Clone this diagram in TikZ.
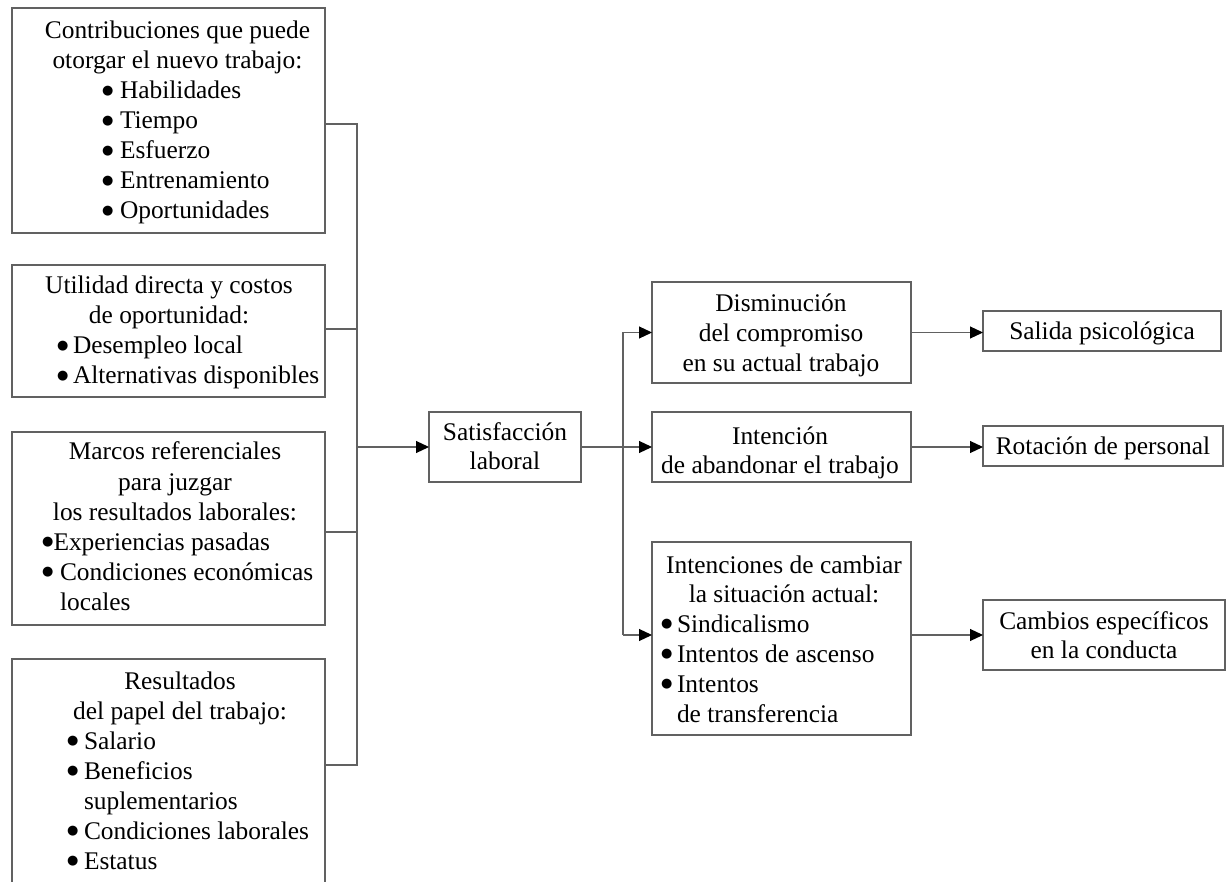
\documentclass[tikz,border=0pt]{standalone}
\usepackage{fontspec}
\setmainfont{Liberation Serif}
\newfontfamily\dejavu{DejaVu Sans}
\usetikzlibrary{arrows.meta}
\newcommand\bdot{\raisebox{4.2pt}{\fontsize{13}{13}\dejavu ●}}
\newcommand\blt[2]{\makebox[#1pt][l]{\bdot}#2}
\begin{document}
\begin{tikzpicture}[x=1pt,y=-1pt,
  box/.style={draw=black!62, line width=1.1pt, inner sep=0pt, outer sep=0pt, fill=none},
  txt/.style={inner sep=0pt, outer sep=0pt, font=\fontsize{25.4}{30}\selectfont, text=black},
  lc/.style={txt, anchor=base},
  ll/.style={txt, anchor=base west},
  conn/.style={draw=black!62, line width=1.1pt},
  arr/.style={conn, -{Triangle[length=13pt,width=12pt,color=black]}}]
\useasboundingbox (0,0) rectangle (1232,882);
\clip (0,0) rectangle (1232,882);

% boxes
\node[box, minimum width=313pt, minimum height=225pt] (c1) at (168.5,120.5) {};
\node[box, minimum width=313pt, minimum height=132pt] (c2) at (168.5,331) {};
\node[box, minimum width=313pt, minimum height=193pt] (c3) at (168.5,528.5) {};
\node[box, minimum width=313pt, minimum height=241pt] (c4) at (168.5,779.5) {};
\node[box, minimum width=152pt, minimum height=70pt] (sat) at (505,447) {};
\node[box, minimum width=259pt, minimum height=101pt] (d1) at (781.5,332.5) {};
\node[box, minimum width=259pt, minimum height=70pt] (d2) at (781.5,447) {};
\node[box, minimum width=259pt, minimum height=193pt] (d3) at (781.5,638.5) {};
\node[box, minimum width=238pt, minimum height=40pt] (s1) at (1102,331) {};
\node[box, minimum width=240pt, minimum height=40pt] (s2) at (1103,446) {};
\node[box, minimum width=242pt, minimum height=70pt] (s3) at (1104,635) {};

% texts box 1
\node[lc] (c1t1) at (177.5,39) {Contribuciones que puede};
\node[lc] (c1t2) at (177.5,69) {otorgar el nuevo trabajo:};
\node[ll] (c1b1) at (102,99) {\blt{18}{Habilidades}};
\node[ll] (c1b2) at (102,129) {\blt{18}{Tiempo}};
\node[ll] (c1b3) at (102,159) {\blt{18}{Esfuerzo}};
\node[ll] (c1b4) at (102,189) {\blt{18}{Entrenamiento}};
\node[ll] (c1b5) at (102,219) {\blt{18}{Oportunidades}};

% box 2
\node[lc] (c2t1) at (169,294) {Utilidad directa y costos};
\node[lc] (c2t2) at (169,324) {de oportunidad:};
\node[ll] (c2b1) at (57,354) {\blt{16}{Desempleo local}};
\node[ll] (c2b2) at (57,384) {\blt{16}{Alternativas disponibles}};

% box 3
\node[lc] (c3t1) at (175,460) {Marcos referenciales};
\node[lc] (c3t2) at (175,490) {para juzgar};
\node[lc] (c3t3) at (175,520) {los resultados laborales:};
\node[ll] (c3b1) at (42,550) {\blt{11.5}{Experiencias pasadas}};
\node[ll] (c3b2) at (42,580) {\blt{18}{Condiciones económicas}};
\node[ll] (c3b3) at (60,610) {locales};

% box 4
\node[lc] (c4t1) at (180,689) {Resultados};
\node[lc] (c4t2) at (180,719) {del papel del trabajo:};
\node[ll] (c4b1) at (67,749) {\blt{17}{Salario}};
\node[ll] (c4b2) at (67,779) {\blt{17}{Beneficios}};
\node[ll] (c4b3) at (84,809) {suplementarios};
\node[ll] (c4b4) at (67,839) {\blt{17}{Condiciones laborales}};
\node[ll] (c4b5) at (67,869) {\blt{17}{Estatus}};

% satisfaction
\node[lc] (satt1) at (505,441) {Satisfacción};
\node[lc] (satt2) at (505,470) {laboral};

% middle column
\node[lc] (d1t1) at (781,312) {Disminución};
\node[lc] (d1t2) at (781,342) {del compromiso};
\node[lc] (d1t3) at (781,372) {en su actual trabajo};
\node[lc] (d2t1) at (780,445) {Intención};
\node[lc] (d2t2) at (780,474) {de abandonar el trabajo};
\node[lc] (d3t1) at (784,573) {Intenciones de cambiar};
\node[lc] (d3t2) at (784,602) {la situación actual:};
\node[ll] (d3b1) at (661,632) {\blt{16}{Sindicalismo}};
\node[ll] (d3b2) at (661,662) {\blt{16}{Intentos de ascenso}};
\node[ll] (d3b3) at (661,692) {\blt{16}{Intentos}};
\node[ll] (d3b4) at (677,722) {de transferencia};

% right column
\node[lc] (s1t) at (1102,340) {Salida psicológica};
\node[lc] (s2t) at (1103,455) {Rotación de personal};
\node[lc] (s3t1) at (1104,629) {Cambios específicos};
\node[lc] (s3t2) at (1104,658) {en la conducta};

% connectors left
\coordinate (j1) at (357,124);
\coordinate (j2) at (357,329);
\coordinate (j3) at (357,532);
\coordinate (j4) at (357,765);
\coordinate (jm) at (357,447);
\draw[conn] (j1 -| c1.east) -- (j1) -- (j4) -- (j4 -| c4.east);
\draw[conn] (j2 -| c2.east) -- (j2);
\draw[conn] (j3 -| c3.east) -- (j3);
\draw[arr] (jm) -- (jm -| sat.west);

% connectors middle
\coordinate (k1) at (623,332.5);
\coordinate (k3) at (623,635);
\draw[arr] (sat.east) -- (sat.east -| d2.west);
\draw[conn] (k1) -- (k3);
\draw[arr] (k1) -- (k1 -| d1.west);
\draw[arr] (k3) -- (k3 -| d3.west);

% connectors right
\draw[arr] (d1.east) -- (d1.east -| s1.west);
\draw[arr] (d2.east) -- (d2.east -| s2.west);
\draw[arr] (s3.west -| d3.east) -- (s3.west);
\end{tikzpicture}
\end{document}
